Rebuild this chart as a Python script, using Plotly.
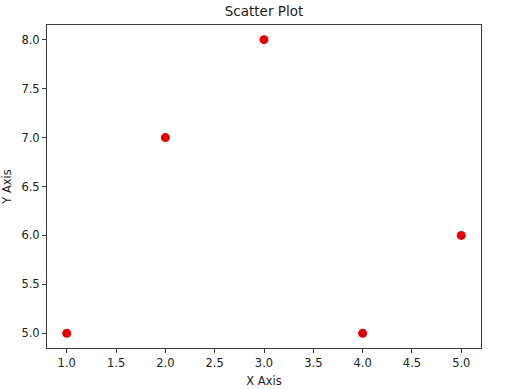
import plotly.graph_objects as go

x_vals = [1, 2, 3, 4, 5]
y_vals = [5, 7, 8, 5, 6]
x_ticks = [1.0, 1.5, 2.0, 2.5, 3.0, 3.5, 4.0, 4.5, 5.0]
y_ticks = [5.0, 5.5, 6.0, 6.5, 7.0, 7.5, 8.0]

font = "DejaVu Sans"
fig = go.Figure(go.Scatter(
    x=x_vals, y=y_vals, mode="markers",
    marker=dict(color="#e40000", size=9, line=dict(width=0)),
))

axis_common = dict(
    showgrid=False, zeroline=False, showline=True, linecolor="#3a3a3a", linewidth=1,
    mirror=True, ticks="outside", ticklen=4, tickwidth=1, tickcolor="#3a3a3a",
    tickfont=dict(family=font, size=11.5, color="#222"), automargin=False,
)
fig.update_layout(
    width=512, height=389,
    margin=dict(l=46.5, r=30.5, t=25, b=41),
    paper_bgcolor="white", plot_bgcolor="white",
    showlegend=False,
    title=dict(text="Scatter Plot", x=0.5, xanchor="center", y=0.97, yanchor="middle",
               xref="paper", font=dict(family=font, size=13.5, color="#222")),
    xaxis=dict(range=[0.8, 5.2], tickvals=x_ticks, ticktext=[f"{t:.1f}" for t in x_ticks],
               title=dict(text="X Axis", standoff=8, font=dict(family=font, size=11.5, color="#222")),
               **axis_common),
    yaxis=dict(range=[4.85, 8.15], tickvals=y_ticks, ticktext=[f"{t:.1f}" for t in y_ticks],
               title=dict(text="Y Axis", standoff=8, font=dict(family=font, size=11.5, color="#222")),
               **axis_common),
)
fig.write_html("out.html")
